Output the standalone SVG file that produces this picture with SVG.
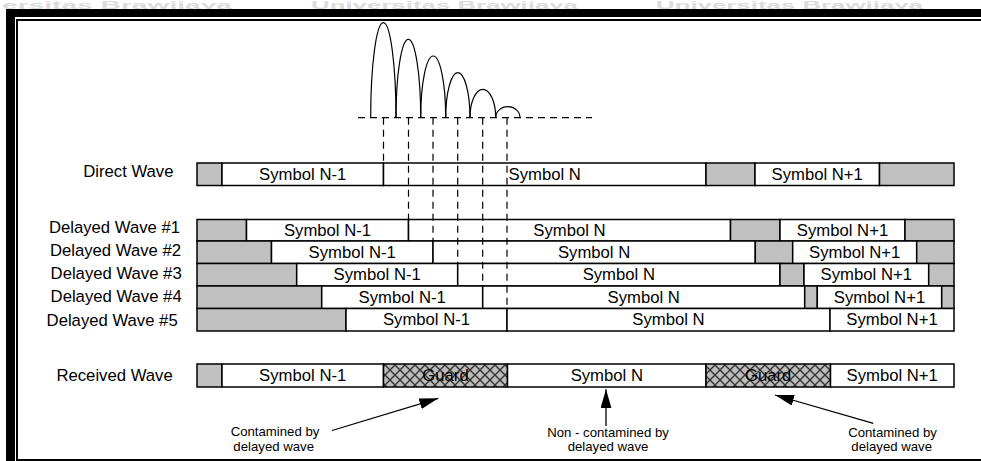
<svg xmlns="http://www.w3.org/2000/svg" width="981" height="461" viewBox="0 0 981 461">
<style>
.g{fill:#c0c0c0;stroke:#000;stroke-width:1.5}
.w{fill:#fff;stroke:#000;stroke-width:1.5}
.h{fill:url(#hatch);stroke:#000;stroke-width:1.5}
text{font-family:"Liberation Sans",Arial,sans-serif;fill:#000}
.t{font-size:16.7px;text-anchor:middle}
.lbl{font-size:16.7px;text-anchor:end}
.note{font-size:13.2px;text-anchor:middle}
.wm{font-size:11px;font-weight:bold;fill:#dcdcdc}
.dash{fill:none;stroke:#000;stroke-width:1.2;stroke-dasharray:7 5}
.arch{fill:none;stroke:#000;stroke-width:1.2}
.arrow{fill:none;stroke:#000;stroke-width:1.3;marker-end:url(#ah)}
</style>
<defs>
<pattern id="hatch" width="10" height="10" patternUnits="userSpaceOnUse">
<rect width="10" height="10" fill="#bdbdbd"/>
<path d="M0,0 L10,10 M10,0 L0,10" stroke="#333" stroke-width="1.4"/>
</pattern>
<marker id="ah" markerUnits="userSpaceOnUse" markerWidth="20" markerHeight="12" refX="19" refY="5.5" orient="auto">
<path d="M0,0 L19,5.5 L0,11 z" fill="#000"/>
</marker>
</defs>
<rect width="981" height="461" fill="#fff"/>
<g id="watermark">
<text class="wm" x="2" y="8.5" textLength="230" lengthAdjust="spacingAndGlyphs">ersitas Brawijaya</text>
<text class="wm" x="311" y="8.5" textLength="267" lengthAdjust="spacingAndGlyphs">Universitas Brawijaya</text>
<text class="wm" x="656" y="8.5" textLength="267" lengthAdjust="spacingAndGlyphs">Universitas Brawijaya</text>
</g>
<g id="frame">
<rect x="18" y="21" width="963" height="438" fill="#fff"/>
<rect x="6" y="9" width="975" height="8" fill="#000"/>
<rect x="6" y="9" width="9" height="452" fill="#000"/>
<rect x="16" y="19" width="965" height="2" fill="#000"/>
<rect x="16" y="19" width="2" height="442" fill="#000"/>
<rect x="16" y="459" width="965" height="2" fill="#000"/>
</g>
<g id="pulses">
<path class="dash" d="M358,117.7 H592"/>
<path class="arch" d="M370.7,117.7 A12.65,95 0 0 1 396,117.7"/>
<path class="arch" d="M396,117.7 A12.35,78.4 0 0 1 420.7,117.7"/>
<path class="arch" d="M420.7,117.7 A12.5,61.7 0 0 1 445.7,117.7"/>
<path class="arch" d="M445.7,117.7 A12.15,45 0 0 1 470,117.7"/>
<path class="arch" d="M470,117.7 A12.85,28.4 0 0 1 495.7,117.7"/>
<path class="arch" d="M495.7,117.7 A12.15,11 0 0 1 520,117.7"/>
</g>
<g id="labels">
<text class="lbl" x="173.5" y="177.3">Direct Wave</text>
<text class="lbl" x="180" y="233.3">Delayed Wave #1</text>
<text class="lbl" x="181" y="256">Delayed Wave #2</text>
<text class="lbl" x="181.7" y="279">Delayed Wave #3</text>
<text class="lbl" x="181.7" y="301.7">Delayed Wave #4</text>
<text class="lbl" x="177.7" y="325.7">Delayed Wave #5</text>
<text class="lbl" x="172.7" y="380.7">Received Wave</text>
</g>
<g id="direct-wave">
<rect class="g" x="197" y="163" width="25" height="22.5"/>
<rect class="w" x="222" y="163" width="161.5" height="22.5"/>
<rect class="w" x="383.5" y="163" width="322.5" height="22.5"/>
<rect class="g" x="706" y="163" width="49" height="22.5"/>
<rect class="w" x="755" y="163" width="124.5" height="22.5"/>
<rect class="g" x="879.5" y="163" width="74.5" height="22.5"/>
<text class="t" x="302.7" y="180">Symbol N-1</text>
<text class="t" x="544.7" y="180">Symbol N</text>
<text class="t" x="817.2" y="180">Symbol N+1</text>
</g>
<g id="delayed-1">
<rect class="g" x="197" y="219.5" width="49.5" height="21.5"/>
<rect class="w" x="246.5" y="219.5" width="162" height="21.5"/>
<rect class="w" x="408.5" y="219.5" width="322" height="21.5"/>
<rect class="g" x="730.5" y="219.5" width="49.5" height="21.5"/>
<rect class="w" x="780" y="219.5" width="125" height="21.5"/>
<rect class="g" x="905" y="219.5" width="49" height="21.5"/>
<text class="t" x="327.5" y="236">Symbol N-1</text>
<text class="t" x="569.5" y="236">Symbol N</text>
<text class="t" x="842.5" y="236">Symbol N+1</text>
</g>
<g id="delayed-2">
<rect class="g" x="197" y="241" width="74.5" height="22.5"/>
<rect class="w" x="271.5" y="241" width="161.5" height="22.5"/>
<rect class="w" x="433" y="241" width="322.3" height="22.5"/>
<rect class="g" x="755.3" y="241" width="37.4" height="22.5"/>
<rect class="w" x="792.7" y="241" width="124" height="22.5"/>
<rect class="g" x="916.7" y="241" width="37.3" height="22.5"/>
<text class="t" x="352.2" y="258">Symbol N-1</text>
<text class="t" x="594.1" y="258">Symbol N</text>
<text class="t" x="854.7" y="258">Symbol N+1</text>
</g>
<g id="delayed-3">
<rect class="g" x="197" y="263.5" width="99.7" height="22.5"/>
<rect class="w" x="296.7" y="263.5" width="161" height="22.5"/>
<rect class="w" x="457.7" y="263.5" width="322.3" height="22.5"/>
<rect class="g" x="780" y="263.5" width="24" height="22.5"/>
<rect class="w" x="804" y="263.5" width="124.7" height="22.5"/>
<rect class="g" x="928.7" y="263.5" width="25.3" height="22.5"/>
<text class="t" x="377.2" y="280.3">Symbol N-1</text>
<text class="t" x="618.8" y="280.3">Symbol N</text>
<text class="t" x="866.3" y="280.3">Symbol N+1</text>
</g>
<g id="delayed-4">
<rect class="g" x="197" y="286" width="124.7" height="22.5"/>
<rect class="w" x="321.7" y="286" width="161" height="22.5"/>
<rect class="w" x="482.7" y="286" width="322" height="22.5"/>
<rect class="g" x="804.7" y="286" width="12.6" height="22.5"/>
<rect class="w" x="817.3" y="286" width="124.4" height="22.5"/>
<rect class="g" x="941.7" y="286" width="12.3" height="22.5"/>
<text class="t" x="402.2" y="302.6">Symbol N-1</text>
<text class="t" x="643.7" y="302.6">Symbol N</text>
<text class="t" x="879.5" y="302.6">Symbol N+1</text>
</g>
<g id="delayed-5">
<rect class="g" x="197" y="308.5" width="149" height="22.5"/>
<rect class="w" x="346" y="308.5" width="161" height="22.5"/>
<rect class="w" x="507" y="308.5" width="323" height="22.5"/>
<rect class="w" x="830" y="308.5" width="124" height="22.5"/>
<text class="t" x="426.5" y="324.6">Symbol N-1</text>
<text class="t" x="668.5" y="324.6">Symbol N</text>
<text class="t" x="892" y="324.6">Symbol N+1</text>
</g>
<g id="received-wave">
<rect class="g" x="197" y="364" width="25" height="23"/>
<rect class="w" x="222" y="364" width="161.5" height="23"/>
<rect class="h" x="383.5" y="364" width="124" height="23"/>
<rect class="w" x="507.5" y="364" width="198.5" height="23"/>
<rect class="h" x="706" y="364" width="124.5" height="23"/>
<rect class="w" x="830.5" y="364" width="123.5" height="23"/>
<text class="t" x="302.7" y="380.7">Symbol N-1</text>
<text class="t" x="445.5" y="380.7">Guard</text>
<text class="t" x="606.8" y="380.7">Symbol N</text>
<text class="t" x="768.2" y="380.7">Guard</text>
<text class="t" x="892.2" y="380.7">Symbol N+1</text>
</g>
<g id="connectors">
<path class="dash" d="M383.5,117.7 V163"/>
<path class="dash" d="M408.5,117.7 V219.5"/>
<path class="dash" d="M433,117.7 V241"/>
<path class="dash" d="M457.7,117.7 V263.5"/>
<path class="dash" d="M482.7,117.7 V286"/>
<path class="dash" d="M507,117.7 V308.5"/>
<path class="arrow" d="M332,430.5 L438.3,398.3"/>
<path class="arrow" d="M606,426 L606,389.3"/>
<path class="arrow" d="M873.3,423.3 L775,395"/>
</g>
<g id="notes">
<text class="note" x="275" y="435.7">Contamined by</text>
<text class="note" x="273.7" y="450.5">delayed wave</text>
<text class="note" x="608" y="436.7">Non - contamined by</text>
<text class="note" x="608" y="450.5">delayed wave</text>
<text class="note" x="892.5" y="436.7">Contamined by</text>
<text class="note" x="891.7" y="450.5">delayed wave</text>
</g>
</svg>
